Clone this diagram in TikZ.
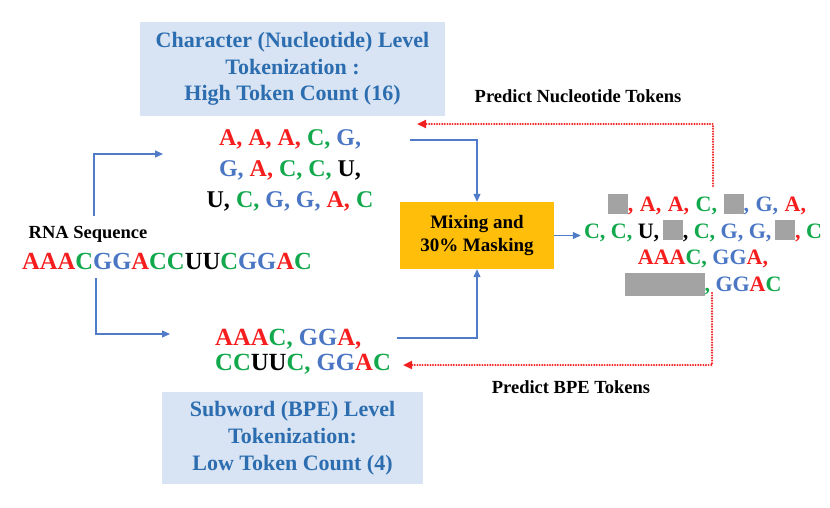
\documentclass[tikz,border=0pt]{standalone}
\usepackage{fontspec}
\setmainfont{Liberation Serif}
\usetikzlibrary{arrows.meta}

\definecolor{ntred}{HTML}{F51D1D}
\definecolor{ntgreen}{HTML}{12A84C}
\definecolor{ntblue}{HTML}{4A76C4}
\definecolor{boxblue}{HTML}{D8E4F3}
\definecolor{titleblue}{HTML}{2C6DB0}
\definecolor{mixorange}{HTML}{FFBE0A}
\definecolor{maskgray}{HTML}{A3A3A3}
\definecolor{flowblue}{HTML}{4F7BC8}
\definecolor{predred}{HTML}{F02020}

\newcommand{\nR}[1]{\textcolor{ntred}{#1}}
\newcommand{\nG}[1]{\textcolor{ntgreen}{#1}}
\newcommand{\nB}[1]{\textcolor{ntblue}{#1}}
\newcommand{\nK}[1]{\textcolor{black}{#1}}
\newcommand{\maskbit}{\textcolor{maskgray}{\rule[-2pt]{20pt}{20pt}}}
\newcommand{\maskwide}{\textcolor{maskgray}{\rule[-5pt]{80pt}{23pt}}}

\tikzset{
  titlebox/.style={fill=boxblue, text=titleblue, align=center, inner sep=0pt,
    font=\fontsize{22}{26.7}\selectfont\bfseries},
  tokfont/.style={inner sep=0pt, font=\fontsize{24}{31}\selectfont\bfseries},
  mixbox/.style={fill=mixorange, align=center, inner sep=0pt,
    font=\fontsize{19}{23}\selectfont\bfseries},
  note/.style={inner sep=0pt, font=\fontsize{18.5}{22}\selectfont\bfseries},
  flow/.style={draw=flowblue, line width=1.2pt, -{Triangle[length=8pt,width=7pt]}},
  pred/.style={draw=predred, line width=2.2pt, line cap=round, dash pattern=on 0pt off 2.6pt,
    -{Triangle[length=9pt,width=8pt,line cap=butt]}}
}

\begin{document}
\begin{tikzpicture}[x=1pt, y=-1pt]
  \useasboundingbox (0,0) rectangle (830,507);

  % title boxes
  \node[titlebox, minimum width=305pt, minimum height=94pt] (charbox) at (292.5,69)
    {Character (Nucleotide) Level\\Tokenization :\\High Token Count (16)};
  \node[titlebox, minimum width=261pt, minimum height=92pt] (bpebox) at (292.5,438)
    {Subword (BPE) Level\\Tokenization:\\Low Token Count (4)};

  % input sequence
  \node[inner sep=0pt, font=\fontsize{18.5}{20}\selectfont\bfseries] (rnalab) at (88,234) {RNA Sequence};
  \node[inner sep=0pt, font=\fontsize{24.6}{26}\selectfont\bfseries] (rnaseq) at (167,261)
    {\nR{AAA}\nG{C}\nB{GG}\nR{A}\nG{CC}\nK{UU}\nG{C}\nB{GG}\nR{A}\nG{C}};

  % nucleotide tokens
  \node[tokfont, align=center] (chartok) at (290,170)
    {\nR{A, A, A,} \nG{C,} \nB{G,}\\
     \nB{G,} \nR{A,} \nG{C, C,} \nK{U,}\\
     \nK{U,} \nG{C,} \nB{G, G,} \nR{A,} \nG{C}};

  % BPE tokens
  \node[tokfont, anchor=west, font=\fontsize{24.7}{31}\selectfont\bfseries] (bpetokA) at (215,339) {\nR{AAA}\nG{C,} \nB{GG}\nR{A,}};
  \node[tokfont, anchor=west, font=\fontsize{24.7}{31}\selectfont\bfseries] (bpetokB) at (215,364) {\nG{CC}\nK{UU}\nG{C,} \nB{GG}\nR{A}\nG{C}};

  % mixing
  \node[mixbox, minimum width=154pt, minimum height=67pt] (mixbox) at (477,235.5)
    {Mixing and\\30\% Masking};

  % masked tokens
  \node[inner sep=3pt, align=center, font=\fontsize{22}{26.5}\selectfont\bfseries] (masktok) at (703,245)
    {\hspace{8pt}\maskbit\nR{,}\hspace{1pt} \nR{A,}\hspace{1pt} \nR{A,}\hspace{1pt} \nG{C,}\hspace{1pt} \maskbit\nB{,}\hspace{1pt} \nB{G,}\hspace{1pt} \nR{A,}\\
     \nG{C, C,} \nK{U,}\,\maskbit\nK{,} \nG{C,} \nB{G, G,}\,\maskbit\nR{,} \nG{C}\\
     \nR{AAA}\nG{C,} \nB{GG}\nR{A,}\\
     \maskwide\nG{,} \nB{GG}\nR{A}\nG{C}};

  % predict labels
  \node[note] (predchar) at (578,96) {Predict Nucleotide Tokens};
  \node[note] (predbpe) at (571,387) {Predict BPE Tokens};

  % connector ends
  \coordinate (sequp) at (94,216);
  \coordinate (sequp2) at (163,154);
  \coordinate (seqdown) at (96,278);
  \coordinate (seqdown2) at (170,334);
  \coordinate (nucout) at (410,140);
  \coordinate (bpeout) at (397,338);
  \coordinate (masktop) at (713,186);
  \coordinate (nucin) at (417,124);
  \coordinate (maskbot) at (712,293);
  \coordinate (bpein) at (403,365);

  % flows
  \draw[flow] (sequp) |- (sequp2);
  \draw[flow] (seqdown) |- (seqdown2);
  \draw[flow] (nucout) -| (mixbox.north);
  \draw[flow] (bpeout) -| (mixbox.south);
  \draw[flow] (mixbox.east) -- (mixbox.east -| masktok.west);

  % predictions
  \draw[pred] (masktop) |- (nucin);
  \draw[pred] (maskbot) |- (bpein);
\end{tikzpicture}
\end{document}
